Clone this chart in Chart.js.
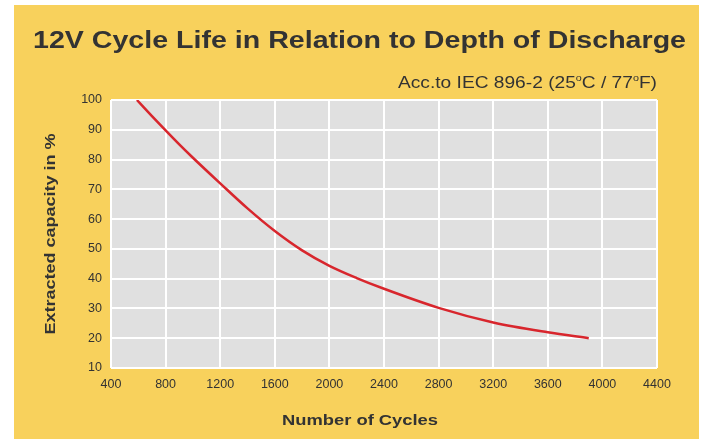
<!DOCTYPE html>
<html>
<head>
<meta charset="utf-8">
<script src="https://cdn.jsdelivr.net/npm/chart.js@4"></script>
<style>
  html, body { margin: 0; padding: 0; background: #fff; }
  #wrap { width: 702px; height: 439px; position: relative; }
</style>
</head>
<body>
<div id="wrap"><canvas id="cycle-chart" width="702" height="439"></canvas></div>
<script>
// values
let cycles = [590, 700, 800, 900, 1000, 1200, 1400, 1600, 1800, 2000, 2200, 2400, 2800, 3200, 3600, 3900];
let capacity = [100, 94.6, 89.8, 85.1, 80.6, 72, 63.6, 56, 49.5, 44.3, 40.2, 36.6, 30.2, 25.3, 22, 20];
let xTicks = [400, 800, 1200, 1600, 2000, 2400, 2800, 3200, 3600, 4000, 4400];
let yTicks = [10, 20, 30, 40, 50, 60, 70, 80, 90, 100];

let chartTitle = "12V Cycle Life in Relation to Depth of Discharge";
let xTitle = "Number of Cycles";
let yTitle = "Extracted capacity in %";

const yellow = '#F8D15C';
const textColor = '#333333';
const fontFamily = "Arial, 'Liberation Sans', Helvetica, sans-serif";

Chart.defaults.font.family = fontFamily;
Chart.defaults.color = textColor;

// fit text horizontally to a target width (the reference text is stretched)
function drawFitted(ctx, text, x, y, width) {
    let w = ctx.measureText(text).width;
    ctx.save();
    ctx.translate(x, y);
    ctx.scale(width / w, 1);
    ctx.fillText(text, 0, 0);
    ctx.restore();
}

let backgroundPlugin = {
    id: 'background',
    beforeDraw(chart) {
        let ctx = chart.ctx;
        let area = chart.chartArea;
        ctx.save();
        ctx.fillStyle = '#ffffff';
        ctx.fillRect(0, 0, chart.width, chart.height);
        ctx.fillStyle = yellow;
        ctx.fillRect(14, 5, 685, chart.height - 5);
        ctx.fillStyle = '#E0E0E0';
        ctx.fillRect(area.left, area.top, area.right - area.left, area.bottom - area.top);
        ctx.restore();
    }
};

let textPlugin = {
    id: 'texts',
    afterDraw(chart) {
        let ctx = chart.ctx;
        let area = chart.chartArea;
        ctx.save();
        ctx.fillStyle = textColor;
        ctx.textBaseline = 'alphabetic';
        ctx.textAlign = 'left';

        // main title
        ctx.font = "bold 23px " + fontFamily;
        drawFitted(ctx, chartTitle, 33, 48, 653);

        // subtitle with superscript degrees
        let parts = [["Acc.to IEC 896-2 (25", false], ["o", true], ["C / 77", false], ["o", true], ["F)", false]];
        let total = 0;
        for (let [t, sup] of parts) {
            ctx.font = (sup ? "9px " : "16px ") + fontFamily;
            total += ctx.measureText(t).width;
        }
        let scale = 259 / total;
        let x = 398;
        for (let [t, sup] of parts) {
            ctx.font = (sup ? "9px " : "16px ") + fontFamily;
            let w = ctx.measureText(t).width * scale;
            ctx.save();
            ctx.translate(x, sup ? 81 : 88);
            ctx.scale(scale, 1);
            ctx.fillText(t, 0, 0);
            ctx.restore();
            x += w;
        }

        // x axis title
        ctx.font = "bold 15px " + fontFamily;
        drawFitted(ctx, xTitle, 282, 425, 156);

        // y axis title
        ctx.save();
        ctx.translate(55, (area.top + area.bottom) / 2);
        ctx.rotate(-Math.PI / 2);
        ctx.font = "bold 14px " + fontFamily;
        drawFitted(ctx, yTitle, -201 / 2, 0, 201);
        ctx.restore();

        ctx.restore();
    }
};

let graphOptions = {
    responsive: false,
    animation: false,
    layout: {
        padding: {top: 100, bottom: 0, left: 0, right: 45}
    },
    plugins: {
        legend: { display: false },
        title: { display: false },
        tooltip: { enabled: false }
    },
    scales: {
        x: {
            type: 'linear',
            min: 400,
            max: 4400,
            afterBuildTicks: scale => {
                scale.ticks = xTicks.map(v => ({value: v}));
            },
            afterFit: scale => {
                scale.height = 439 - 368;
            },
            grid: {
                color: '#ffffff',
                lineWidth: 2,
                drawTicks: false
            },
            border: { display: false },
            ticks: {
                color: textColor,
                font: { size: 12.5 },
                padding: 9,
                maxRotation: 0,
                callback: v => String(v)
            }
        },
        y: {
            min: 10,
            max: 100,
            afterBuildTicks: scale => {
                scale.ticks = yTicks.map(v => ({value: v}));
            },
            afterFit: scale => {
                scale.width = 111;
            },
            grid: {
                color: '#ffffff',
                lineWidth: 2,
                drawTicks: false
            },
            border: { display: false },
            ticks: {
                color: textColor,
                font: { size: 12.5 },
                padding: 9,
                callback: v => String(v)
            }
        }
    }
};

let chartCanvas = document.getElementById("cycle-chart").getContext("2d");
let chart = new Chart(chartCanvas, {
    type: 'line',
    data: {
        datasets: [{
            label: 'Extracted capacity',
            data: cycles.map((c, i) => ({x: c, y: capacity[i]})),
            borderColor: '#D8262D',
            borderWidth: 2.5,
            pointRadius: 0,
            cubicInterpolationMode: 'monotone',
            fill: false
        }]
    },
    options: graphOptions,
    plugins: [backgroundPlugin, textPlugin]
});
</script>
</body>
</html>
